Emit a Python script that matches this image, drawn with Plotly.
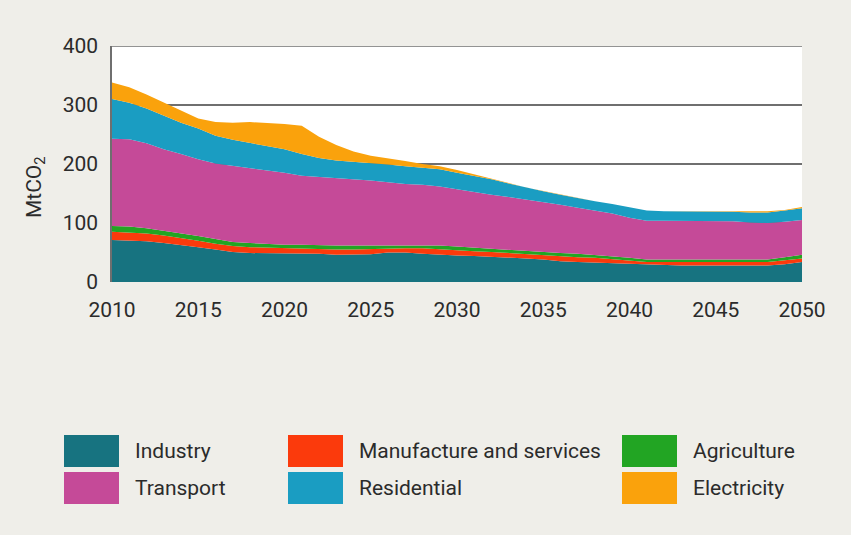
import plotly.graph_objects as go

years = list(range(2010, 2051))

industry = [71,70,69,66,63,59,55,51,49,49,49,49,48,46,46,47,50,50,48,46,45,44,43,42,40,38,35,34,33,32,31,29,28,28,28,28,28,28,28,30,34]
manufacture = [14,14,13,13,12,11,10,10,10,9,8,8,8,9,9,9,7,7,9,9,8,8,8,7,7,7,8,8,8,7,5,5,6,6,6,6,6,6,6,7,6]
agriculture = [10,10,9,8,7,8,8,7,7,6,6,6,6,7,7,6,6,6,5,7,7,6,6,6,6,5,6,6,5,5,5,4,4,4,4,4,4,4,4,5,6]
transport = [148,148,144,138,135,130,128,129,128,126,122,117,116,115,113,110,106,103,103,100,97,94,91,89,87,86,82,78,75,72,68,66,66,66,66,66,65,63,62,60,59]
residential = [67,62,59,57,53,52,47,44,42,41,40,37,32,29,29,30,30,30,29,29,28,28,26,23,20,18,17,16,16,16,17,17,16,16,16,16,16,17,18,19,20]
electricity = [28,26,24,22,20,17,23,29,35,39,43,48,36,26,17,12,11,9,6,5,5,3,2,1,0,0,0,0,0,0,0,0,0,0,0,1,1,2,2,1,2]

series_names = ["Industry", "Manufacture and services", "Agriculture", "Transport", "Residential", "Electricity"]
series_values = [industry, manufacture, agriculture, transport, residential, electricity]
colors = ["#177380", "#fb3a0c", "#22a523", "#c54a98", "#1a9dc2", "#faa20c"]

x_ticks = [2010, 2015, 2020, 2025, 2030, 2035, 2040, 2045, 2050]
y_ticks = [0, 100, 200, 300, 400]

FONT = "Roboto"
TEXT = "#2b2b2b"
GRID = "#6f6f6f"

fig = go.Figure()
for name, vals, col in zip(series_names, series_values, colors):
    fig.add_trace(go.Scatter(
        x=years, y=vals, name=name, mode="lines",
        stackgroup="one", line=dict(width=0, color=col),
        fillcolor=col, showlegend=False, hoverinfo="x+y+name",
    ))

# plot geometry in pixels (for custom legend placement)
L, R, T, B = 112, 802, 46, 282
W, H = R - L, B - T
def px(x):
    return (x - L) / W
def py(y):
    return (B - y) / H

shapes = [dict(type="line", xref="paper", yref="y", x0=0, x1=1,
               y0=y_ticks[-1], y1=y_ticks[-1], line=dict(color=GRID, width=1.5))]
annotations = []
legend_layout = [
    ("Industry", 0, 0), ("Transport", 0, 1),
    ("Manufacture and services", 1, 0), ("Residential", 1, 1),
    ("Agriculture", 2, 0), ("Electricity", 2, 1),
]
col_x = [64, 288, 622]
row_y = [435, 472]
for name, c, r in legend_layout:
    col = colors[series_names.index(name)]
    x0, y0 = col_x[c], row_y[r]
    shapes.append(dict(type="rect", xref="paper", yref="paper",
                       x0=px(x0), x1=px(x0 + 55), y0=py(y0), y1=py(y0 + 32),
                       fillcolor=col, line=dict(width=0)))
    annotations.append(dict(xref="paper", yref="paper", x=px(x0 + 69), y=py(y0 + 16),
                            text=name, showarrow=False, xanchor="left", yanchor="middle",
                            font=dict(family=FONT, size=21, color=TEXT)))

annotations.append(dict(xref="paper", yref="paper", x=px(35), y=py(187),
                        text="MtCO<sub>2</sub>", showarrow=False, textangle=-90,
                        xanchor="center", yanchor="middle",
                        font=dict(family=FONT, size=21, color=TEXT)))

fig.update_layout(
    width=851, height=535,
    margin=dict(l=L, r=851 - R, t=T, b=535 - B),
    paper_bgcolor="#efeee9", plot_bgcolor="#ffffff",
    shapes=shapes, annotations=annotations,
    font=dict(family=FONT, size=21, color=TEXT),
    xaxis=dict(range=[2010, 2050], tickvals=x_ticks, ticktext=[str(v) for v in x_ticks],
               showgrid=False, zeroline=False, showline=False, ticks="",
               ticklabelstandoff=13, tickfont=dict(family=FONT, size=21, color=TEXT)),
    yaxis=dict(range=[0, 400], tickvals=y_ticks, ticktext=[str(v) for v in y_ticks],
               showgrid=True, gridcolor=GRID, gridwidth=1.5, zeroline=False,
               showline=True, linecolor=GRID, linewidth=1.5, ticks="",
               ticklabelstandoff=8, tickfont=dict(family=FONT, size=21, color=TEXT)),
)

fig.write_html("out.html", config={"displayModeBar": False},
               post_script="document.body.style.margin='0';document.body.style.background='#efeee9';")
